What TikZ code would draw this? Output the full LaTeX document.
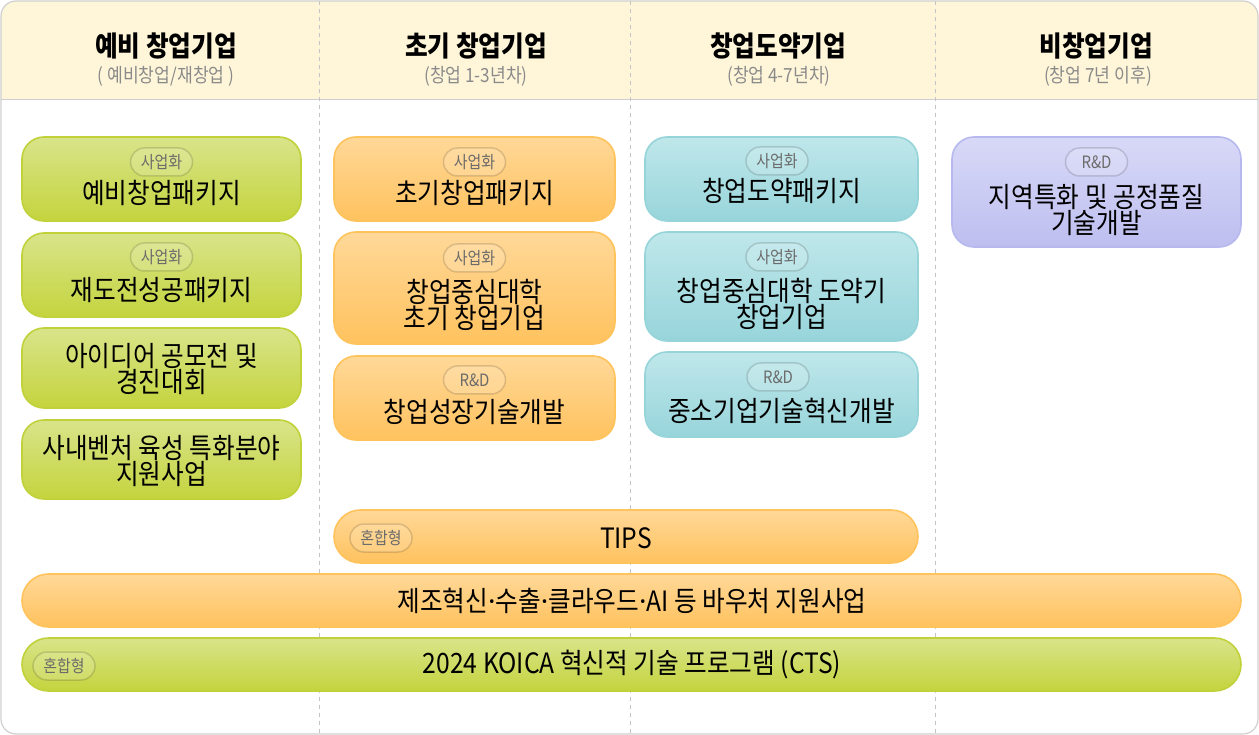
\documentclass[tikz,border=0pt]{standalone}
\usepackage{fontspec}
\setmainfont{Noto Sans CJK KR}[FakeStretch=0.88]
\newfontfamily\dotfont{Noto Sans}
\usetikzlibrary{shapes.misc}
\definecolor{frameGray}{HTML}{CFCFCF}
\definecolor{headFill}{HTML}{FFF6D9}
\definecolor{divGray}{HTML}{C4C4C4}
\definecolor{subGray}{HTML}{8A8A8A}
\definecolor{gTop}{HTML}{D9E48A}\definecolor{gBot}{HTML}{C4D43D}\definecolor{gLine}{HTML}{C0D13A}
\definecolor{oTop}{HTML}{FFD898}\definecolor{oBot}{HTML}{FFC25E}\definecolor{oLine}{HTML}{FFC35C}
\definecolor{cTop}{HTML}{BFE7EA}\definecolor{cBot}{HTML}{97D5DB}\definecolor{cLine}{HTML}{96D4DA}
\definecolor{pTop}{HTML}{D8D9F7}\definecolor{pBot}{HTML}{BEBEF0}\definecolor{pLine}{HTML}{B7B8EE}
\newcommand{\mdot}{{\dotfont ·}}
\tikzset{
  prog/.style={rounded corners=22pt, line width=1.6pt, inner sep=0pt},
  greenbox/.style={prog, draw=gLine, top color=gTop, bottom color=gBot},
  orangebox/.style={prog, draw=oLine, top color=oTop, bottom color=oBot},
  cyanbox/.style={prog, draw=cLine, top color=cTop, bottom color=cBot},
  purplebox/.style={prog, draw=pLine, top color=pTop, bottom color=pBot},
  pill/.style={rounded rectangle, line width=1.6pt, inner sep=0pt},
  badge/.style={rounded rectangle, minimum width=62pt, minimum height=28pt, inner sep=0pt,
     draw=black, draw opacity=0.14, line width=1.5pt, fill=white, fill opacity=0.15,
     text opacity=1, text=black!58, font=\fontsize{17}{19}\selectfont},
  label/.style={inner sep=0pt, align=center, font=\fontsize{28}{26}\selectfont},
  title/.style={inner sep=0pt, font=\fontsize{28}{30}\selectfont\bfseries},
  subtitle/.style={inner sep=0pt, text=subGray, font=\fontsize{19.5}{22}\selectfont},
  divider/.style={draw=divGray, line width=1pt, dash pattern=on 4pt off 4pt},
}
\begin{document}
\begin{tikzpicture}[x=1pt,y=-1pt]
\useasboundingbox (0,0) rectangle (1259,735);
% header band
\begin{scope}
  \clip[rounded corners=15pt] (1,1) rectangle (1258,734);
  \fill[headFill] (0,0) rectangle (1259,100);
\end{scope}
\draw[frameGray, line width=1pt] (1,100) -- (1258,100);
% dividers
\coordinate (d1t) at (319,1); \coordinate (d1b) at (319,734);
\coordinate (d2t) at (630,1); \coordinate (d2b) at (630,734);
\coordinate (d3t) at (935,1); \coordinate (d3b) at (935,734);
\draw[divider] (d1t) -- (d1b);
\draw[divider] (d2t) -- (d2b);
\draw[divider] (d3t) -- (d3b);
\draw[frameGray, line width=1.2pt, rounded corners=15pt] (1,1) rectangle (1258,734);

% headers
\node[title] (h1) at (166,46) {예비 창업기업};
\node[subtitle] (s1) at (166,76) {( 예비창업/재창업 )};
\node[title] (h2) at (476,46) {초기 창업기업};
\node[subtitle] (s2) at (476,76) {(창업 1-3년차)};
\node[title] (h3) at (778,46) {창업도약기업};
\node[subtitle] (s3) at (779,76) {(창업 4-7년차)};
\node[title] (h4) at (1096,46) {비창업기업};
\node[subtitle] (s4) at (1098,76) {(창업 7년 이후)};

% column 1
\node[greenbox, minimum width=279pt, minimum height=84pt] (g1) at (161.5,179) {};
\node[badge] (g1b) at (161.5,162) {사업화};
\node[label] (g1t) at (161.5,193) {예비창업패키지};
\node[greenbox, minimum width=279pt, minimum height=84pt] (g2) at (161.5,275) {};
\node[badge] (g2b) at (161.5,257) {사업화};
\node[label] (g2t) at (161.5,290) {재도전성공패키지};
\node[greenbox, minimum width=279pt, minimum height=80pt] (g3) at (161.5,368) {};
\node[label] (g3t) at (161.5,369) {아이디어 공모전 및\\경진대회};
\node[greenbox, minimum width=279pt, minimum height=79pt] (g4) at (161.5,459.5) {};
\node[label] (g4t) at (161.5,461) {사내벤처 육성 특화분야\\지원사업};

% column 2
\node[orangebox, minimum width=281pt, minimum height=84pt] (o1) at (474.5,179) {};
\node[badge] (o1b) at (474.5,162) {사업화};
\node[label] (o1t) at (474.5,193) {초기창업패키지};
\node[orangebox, minimum width=281pt, minimum height=112pt] (o2) at (474.5,288) {};
\node[badge] (o2b) at (474.5,258) {사업화};
\node[label] (o2t) at (474.5,305) {창업중심대학\\초기 창업기업};
\node[orangebox, minimum width=281pt, minimum height=84pt] (o3) at (474.5,398) {};
\node[badge] (o3b) at (474.5,380) {R\&D};
\node[label] (o3t) at (474.5,412) {창업성장기술개발};

% column 3
\node[cyanbox, minimum width=273pt, minimum height=84pt] (c1) at (781.5,179) {};
\node[badge] (c1b) at (777,161) {사업화};
\node[label] (c1t) at (781.5,191) {창업도약패키지};
\node[cyanbox, minimum width=273pt, minimum height=109pt] (c2) at (781.5,286.5) {};
\node[badge] (c2b) at (777,257) {사업화};
\node[label] (c2t) at (781.5,304) {창업중심대학 도약기\\창업기업};
\node[cyanbox, minimum width=273pt, minimum height=85pt] (c3) at (781.5,394.5) {};
\node[badge] (c3b) at (778,377) {R\&D};
\node[label] (c3t) at (781.5,411) {중소기업기술혁신개발};

% column 4
\node[purplebox, minimum width=289pt, minimum height=110pt] (p1) at (1096.5,192) {};
\node[badge] (p1b) at (1096.5,162) {R\&D};
\node[label] (p1t) at (1096.5,210) {지역특화 및 공정품질\\기술개발};

% bars
\node[pill, draw=oLine, top color=oTop, bottom color=oBot, minimum width=584pt, minimum height=53pt] (tips) at (626,536.5) {};
\node[badge] (tipsb) at (381,538) {혼합형};
\node[label] (tipst) at (626,538) {TIPS};
\node[pill, draw=oLine, top color=oTop, bottom color=oBot, minimum width=1219pt, minimum height=53pt] (vou) at (631.5,600.5) {};
\node[label] (vout) at (632,601) {제조혁신\mdot 수출\mdot 클라우드\mdot AI 등 바우처 지원사업};
\node[pill, draw=gLine, top color=gTop, bottom color=gBot, minimum width=1219pt, minimum height=53pt] (koi) at (631.5,664.5) {};
\node[badge] (koib) at (64,666) {혼합형};
\node[label] (koit) at (632,665) {2024 KOICA 혁신적 기술 프로그램 (CTS)};
\end{tikzpicture}
\end{document}
